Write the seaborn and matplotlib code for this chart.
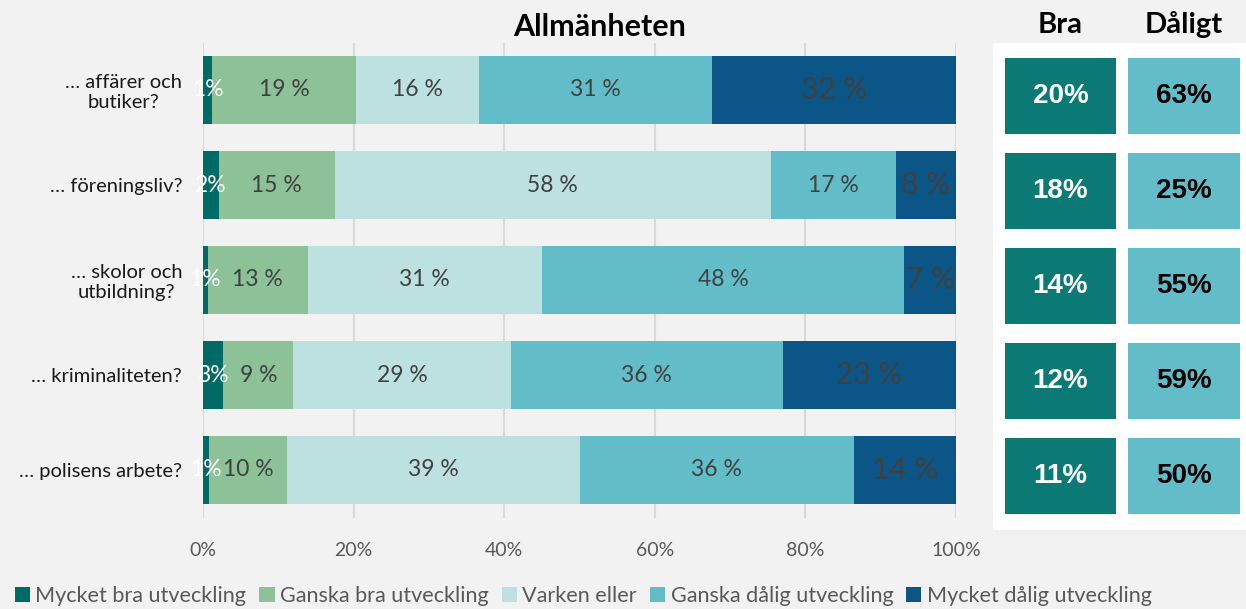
import matplotlib
matplotlib.use("Agg")
import matplotlib.pyplot as plt
from matplotlib.patches import Patch
import seaborn as sns
import pandas as pd
import numpy as np

# Data
categories = ["… affärer och\nbutiker?", "… föreningsliv?", "… skolor och\nutbildning?",
              "… kriminaliteten?", "… polisens arbete?"]
series_names = ["Mycket bra utveckling", "Ganska bra utveckling", "Varken eller",
                "Ganska dålig utveckling", "Mycket dålig utveckling"]
mycket_bra = [1.2, 2.1, 0.6, 2.7, 0.8]
ganska_bra = [19.1, 15.4, 13.3, 9.3, 10.4]
varken = [16.4, 57.9, 31.1, 28.9, 38.8]
ganska_dalig = [30.9, 16.6, 48.1, 36.1, 36.4]
mycket_dalig = [32.4, 8.0, 6.9, 23.0, 13.6]
bra = [20, 18, 14, 12, 11]
daligt = [63, 25, 55, 59, 50]

colors = ["#006b66", "#8dc197", "#bde0e0", "#62bdc9", "#0b5686"]
box_colors = ["#0b7a75", "#62bdc9"]

df = pd.DataFrame({"Kategori": categories,
                   series_names[0]: mycket_bra, series_names[1]: ganska_bra,
                   series_names[2]: varken, series_names[3]: ganska_dalig,
                   series_names[4]: mycket_dalig})
vals = df[series_names].to_numpy()
cum = vals.cumsum(axis=1)

sns.set_theme(style="white")
plt.rcParams["font.family"] = ["Lato", "DejaVu Sans"]
bg = "#f2f2f2"

fig = plt.figure(figsize=(12.46, 6.09), dpi=100, facecolor=bg)
W, H = 1246, 609

def frac(x0, y0, x1, y1):
    return [x0 / W, 1 - y1 / H, (x1 - x0) / W, (y1 - y0) / H]

# main stacked bar chart
ax = fig.add_axes(frac(203, 42.5, 956, 517.5))
ax.set_facecolor(bg)
for i in range(len(series_names) - 1, -1, -1):
    tmp = pd.DataFrame({"Kategori": categories, "x": cum[:, i]})
    sns.barplot(data=tmp, x="x", y="Kategori", orient="h", color=colors[i],
                saturation=1, width=0.716, linewidth=0, ax=ax, zorder=2)

for r in range(len(categories)):
    for i in range(len(series_names)):
        v = vals[r, i]
        c = cum[r, i] - v / 2
        if i == 0:
            txt, col, fs = f"{round(v)}%", "white", 16.5
        elif i == 4:
            txt, col, fs = f"{round(v)} %", "#404040", 21.5
        else:
            txt, col, fs = f"{round(v)} %", "#404040", 16.5
        ax.text(c, r, txt, ha="center", va="center", color=col, fontsize=fs, zorder=5)

ax.set_xlim(0, 100)
ax.set_xticks(np.arange(0, 101, 20))
ax.set_xticklabels([f"{t}%" for t in range(0, 101, 20)])
ax.set_xlabel("")
ax.set_ylabel("")
ax.grid(axis="x", color="#d9d9d9", linewidth=1.5, zorder=0)
ax.set_axisbelow(True)
for s in ax.spines.values():
    s.set_visible(False)
ax.tick_params(axis="x", length=0, pad=18, labelsize=14, labelcolor="#595959")
ax.tick_params(axis="y", length=0, pad=15, labelsize=14.5, labelcolor="#1a1a1a")
for lbl in ax.get_yticklabels():
    lbl.set_multialignment("center")

fig.text(600 / W, 1 - 27 / H, "Allmänheten", ha="center", va="center",
         fontsize=22, fontweight="bold", color="black")

# right panel
bgax = fig.add_axes(frac(993, 43, 1246, 530))
bgax.set_facecolor("white")
bgax.set_xticks([])
bgax.set_yticks([])
for s in bgax.spines.values():
    s.set_visible(False)

for name, xs, data, bc, tc in [("Bra", (1005, 1116), bra, box_colors[0], "white"),
                                ("Dåligt", (1128, 1240), daligt, box_colors[1], "black")]:
    rax = fig.add_axes(frac(xs[0], 48.5, xs[1], 523.5))
    tmp = pd.DataFrame({"Kategori": categories, "v": [1] * len(categories)})
    sns.barplot(data=tmp, x="v", y="Kategori", orient="h", color=bc, saturation=1,
                width=0.81, linewidth=0, ax=rax)
    rax.set_xlim(0, 1)
    rax.axis("off")
    for r, v in enumerate(data):
        rax.text(0.5, r, f"{v}%", ha="center", va="center", color=tc, fontsize=20,
                 fontweight="bold", family=["Liberation Sans"])
    fig.text((xs[0] + xs[1]) / 2 / W, 1 - 25 / H, name, ha="center", va="center",
             fontsize=21, fontweight="bold", color="black")

handles = [Patch(facecolor=c, edgecolor="none") for c in colors]
fig.legend(handles, series_names, loc="center left", bbox_to_anchor=(4 / W, 1 - 596 / H),
           ncol=5, frameon=False, fontsize=15.6, handlelength=0.7, handleheight=0.7,
           handletextpad=0.25, columnspacing=0.6, labelcolor="#595959", borderpad=0)

fig.savefig("out.png", dpi=100, facecolor=bg)
